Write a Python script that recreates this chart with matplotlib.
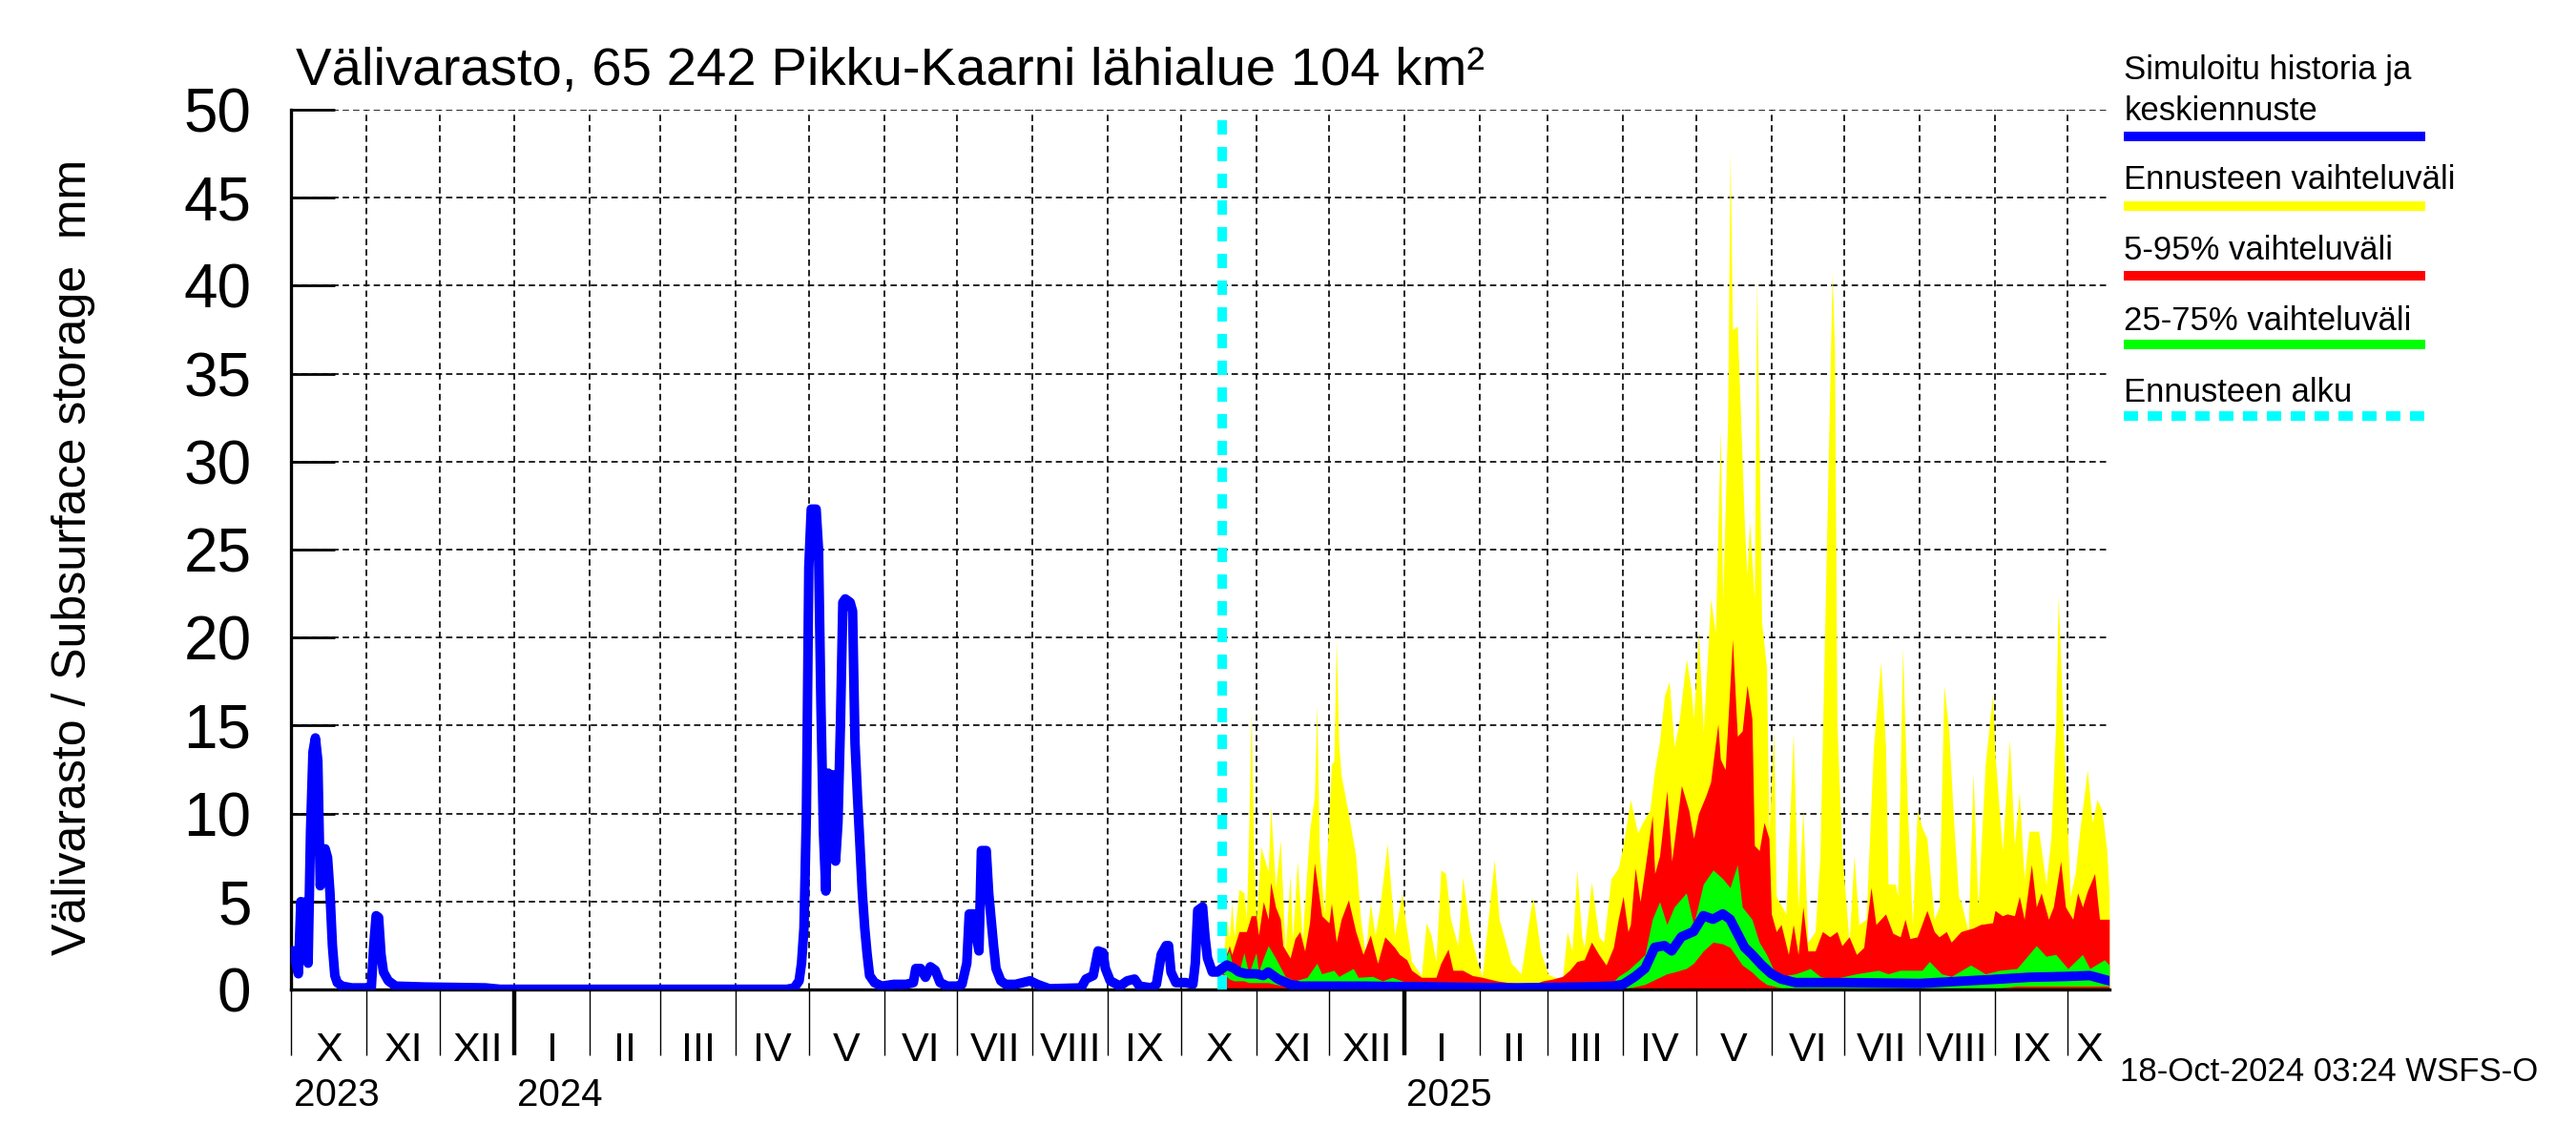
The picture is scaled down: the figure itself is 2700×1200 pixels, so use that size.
import numpy as np
import pandas as pd
import matplotlib
matplotlib.use("Agg")
import matplotlib.pyplot as plt
from matplotlib.lines import Line2D
from matplotlib import font_manager

# =========================
# Data
# =========================
hist_dates = [
    "2023-10-01", "2023-10-02", "2023-10-03", "2023-10-04", "2023-10-05", "2023-10-06",
    "2023-10-07", "2023-10-08", "2023-10-09", "2023-10-10", "2023-10-11", "2023-10-12",
    "2023-10-13", "2023-10-14", "2023-10-15", "2023-10-16", "2023-10-17", "2023-10-18",
    "2023-10-19", "2023-10-20", "2023-10-22", "2023-10-26", "2023-11-03", "2023-11-04",
    "2023-11-05", "2023-11-06", "2023-11-07", "2023-11-08", "2023-11-10", "2023-11-13",
    "2023-11-25", "2023-12-20", "2023-12-26", "2024-04-22", "2024-04-25", "2024-04-27",
    "2024-04-28", "2024-04-29", "2024-04-30", "2024-05-01", "2024-05-02", "2024-05-04",
    "2024-05-05", "2024-05-06", "2024-05-07", "2024-05-08", "2024-05-09", "2024-05-10",
    "2024-05-11", "2024-05-12", "2024-05-13", "2024-05-14", "2024-05-15", "2024-05-16",
    "2024-05-18", "2024-05-19", "2024-05-20", "2024-05-21", "2024-05-22", "2024-05-23",
    "2024-05-24", "2024-05-25", "2024-05-26", "2024-05-28", "2024-05-31", "2024-06-05",
    "2024-06-10", "2024-06-13", "2024-06-14", "2024-06-16", "2024-06-18", "2024-06-20",
    "2024-06-22", "2024-06-24", "2024-06-27", "2024-07-01", "2024-07-03", "2024-07-05",
    "2024-07-06", "2024-07-08", "2024-07-09", "2024-07-10", "2024-07-11", "2024-07-13",
    "2024-07-14", "2024-07-15", "2024-07-16", "2024-07-17", "2024-07-19", "2024-07-21",
    "2024-07-25", "2024-07-31", "2024-08-03", "2024-08-08", "2024-08-21", "2024-08-23",
    "2024-08-26", "2024-08-28", "2024-08-30", "2024-08-31", "2024-09-02", "2024-09-06",
    "2024-09-09", "2024-09-12", "2024-09-14", "2024-09-19", "2024-09-21", "2024-09-23",
    "2024-09-25", "2024-09-26", "2024-09-27", "2024-09-29", "2024-10-03", "2024-10-06",
    "2024-10-07", "2024-10-08", "2024-10-10", "2024-10-11", "2024-10-12", "2024-10-14",
    "2024-10-16", "2024-10-18",
]
hist_vals = [
    2.2, 2.2, 1.5, 0.9, 5.0, 3.0,
    5.0, 1.5, 9.0, 13.5, 14.3, 13.0,
    5.9, 7.0, 8.0, 7.5, 5.5, 2.5,
    0.8, 0.4, 0.2, 0.1, 0.1, 2.5,
    4.2, 4.1, 2.0, 1.0, 0.5, 0.2,
    0.15, 0.1, 0.02, 0.02, 0.1, 0.5,
    1.5, 3.5, 10.0, 24.0, 27.3, 27.3,
    25.0, 16.0, 9.0, 5.6, 12.3, 8.0,
    12.2, 7.3, 9.5, 15.0, 22.0, 22.2,
    22.0, 21.5, 14.0, 11.0, 8.3, 5.5,
    3.5, 2.0, 0.8, 0.4, 0.2, 0.3,
    0.3, 0.4, 1.2, 1.2, 0.7, 1.3,
    1.1, 0.4, 0.2, 0.2, 0.3, 1.5,
    4.3, 4.3, 3.0, 2.2, 7.9, 7.9,
    5.5, 4.0, 2.5, 1.2, 0.5, 0.3,
    0.3, 0.5, 0.3, 0.05, 0.1, 0.6,
    0.8, 2.2, 2.1, 1.2, 0.5, 0.2,
    0.5, 0.6, 0.2, 0.1, 0.3, 2.0,
    2.5, 2.5, 1.0, 0.4, 0.4, 0.3,
    1.5, 4.5, 4.7, 3.0, 1.8, 1.0,
    1.0, 1.2,
]

# Ennusteen vaihteluväli (max)
yel_dates = [
    "2024-10-18", "2024-10-20", "2024-10-21", "2024-10-22", "2024-10-23", "2024-10-25",
    "2024-10-27", "2024-10-28", "2024-10-29", "2024-10-30", "2024-10-31", "2024-11-01",
    "2024-11-03", "2024-11-06", "2024-11-07", "2024-11-09", "2024-11-11", "2024-11-13",
    "2024-11-15", "2024-11-16", "2024-11-18", "2024-11-20", "2024-11-23", "2024-11-25",
    "2024-11-26", "2024-11-27", "2024-11-29", "2024-12-02", "2024-12-03", "2024-12-04",
    "2024-12-05", "2024-12-06", "2024-12-09", "2024-12-12", "2024-12-14", "2024-12-16",
    "2024-12-18", "2024-12-20", "2024-12-22", "2024-12-25", "2024-12-28", "2024-12-31",
    "2025-01-02", "2025-01-04", "2025-01-08", "2025-01-10", "2025-01-12", "2025-01-14",
    "2025-01-16", "2025-01-18", "2025-01-20", "2025-01-23", "2025-01-25", "2025-01-28",
    "2025-01-31", "2025-02-02", "2025-02-07", "2025-02-09", "2025-02-14", "2025-02-18",
    "2025-02-22", "2025-02-23", "2025-02-26", "2025-03-01", "2025-03-03", "2025-03-07",
    "2025-03-09", "2025-03-11", "2025-03-13", "2025-03-15", "2025-03-16", "2025-03-19",
    "2025-03-22", "2025-03-24", "2025-03-27", "2025-03-30", "2025-04-01", "2025-04-04",
    "2025-04-07", "2025-04-09", "2025-04-12", "2025-04-14", "2025-04-16", "2025-04-18",
    "2025-04-20", "2025-04-22", "2025-04-24", "2025-04-27", "2025-04-29", "2025-04-30",
    "2025-05-02", "2025-05-04", "2025-05-07", "2025-05-09", "2025-05-11", "2025-05-12",
    "2025-05-14", "2025-05-15", "2025-05-16", "2025-05-18", "2025-05-20", "2025-05-21",
    "2025-05-22", "2025-05-23", "2025-05-25", "2025-05-26", "2025-05-28", "2025-05-30",
    "2025-05-31", "2025-06-02", "2025-06-03", "2025-06-07", "2025-06-10", "2025-06-12",
    "2025-06-14", "2025-06-16", "2025-06-19", "2025-06-21", "2025-06-24", "2025-06-26",
    "2025-06-27", "2025-06-28", "2025-06-30", "2025-07-03", "2025-07-05", "2025-07-07",
    "2025-07-10", "2025-07-13", "2025-07-16", "2025-07-18", "2025-07-19", "2025-07-22",
    "2025-07-23", "2025-07-25", "2025-07-27", "2025-07-29", "2025-07-31", "2025-08-02",
    "2025-08-04", "2025-08-07", "2025-08-09", "2025-08-11", "2025-08-13", "2025-08-15",
    "2025-08-17", "2025-08-18", "2025-08-21", "2025-08-23", "2025-08-25", "2025-08-28",
    "2025-08-31", "2025-09-01", "2025-09-04", "2025-09-07", "2025-09-09", "2025-09-11",
    "2025-09-13", "2025-09-15", "2025-09-19", "2025-09-22", "2025-09-24", "2025-09-26",
    "2025-09-27", "2025-09-29", "2025-10-02", "2025-10-04", "2025-10-06", "2025-10-09",
    "2025-10-11", "2025-10-13", "2025-10-15", "2025-10-17", "2025-10-18",
]
yel_vals = [
    1.2, 4.0, 2.9, 5.0, 3.0, 5.7,
    5.5, 4.0, 9.0, 15.9, 8.0, 4.0,
    8.1, 6.7, 10.4, 5.8, 8.5, 2.2,
    6.5, 2.9, 7.3, 2.9, 9.0, 11.0,
    16.2, 8.0, 4.3, 12.8, 13.0, 19.9,
    14.0, 12.2, 10.0, 7.6, 4.0, 2.0,
    4.9, 3.1, 4.8, 8.3, 3.1, 5.5,
    3.4, 1.6, 0.8, 3.8, 3.1, 1.6,
    6.8, 6.6, 4.0, 2.5, 6.4, 3.3,
    1.6, 0.75, 7.4, 4.0, 1.5, 0.9,
    4.6, 5.2, 2.2, 0.9, 0.75, 0.6,
    3.3, 2.2, 6.8, 3.0, 2.4, 6.1,
    3.0, 2.7, 6.3, 6.9, 8.2, 10.8,
    8.9, 9.5, 10.2, 12.5, 14.1, 16.7,
    17.5, 13.8, 15.2, 18.8, 17.0, 15.4,
    20.3, 14.7, 22.2, 20.3, 31.8, 22.2,
    32.3, 47.6, 37.5, 37.7, 30.0, 26.1,
    23.5, 26.6, 22.2, 40.4, 20.9, 18.3,
    8.9, 14.7, 5.3, 4.3, 14.6, 4.7,
    10.2, 2.7, 3.3, 7.6, 27.4, 40.7,
    36.3, 15.1, 7.9, 2.7, 7.6, 3.7,
    4.0, 13.8, 18.6, 13.8, 6.0, 6.0,
    5.3, 19.4, 10.2, 3.7, 10.2, 9.2,
    8.6, 4.0, 4.7, 17.3, 14.7, 9.5,
    5.3, 5.0, 3.3, 12.3, 4.7, 12.8,
    16.8, 13.4, 7.9, 14.2, 8.2, 11.2,
    6.3, 9.0, 9.0, 6.0, 8.6, 15.1,
    22.4, 15.1, 5.3, 6.6, 9.2, 12.5,
    9.5, 10.8, 10.2, 7.9, 5.3,
]

# 5-95% vaihteluväli (upper edge)
red_dates = [
    "2024-10-18", "2024-10-21", "2024-10-22", "2024-10-25", "2024-10-28", "2024-10-30",
    "2024-11-01", "2024-11-02", "2024-11-04", "2024-11-06", "2024-11-07", "2024-11-09",
    "2024-11-11", "2024-11-12", "2024-11-15", "2024-11-17", "2024-11-19", "2024-11-21",
    "2024-11-23", "2024-11-25", "2024-11-28", "2024-12-01", "2024-12-02", "2024-12-04",
    "2024-12-06", "2024-12-09", "2024-12-12", "2024-12-15", "2024-12-18", "2024-12-21",
    "2024-12-24", "2024-12-28", "2024-12-30", "2025-01-02", "2025-01-04", "2025-01-08",
    "2025-01-14", "2025-01-16", "2025-01-19", "2025-01-21", "2025-01-25", "2025-01-29",
    "2025-02-02", "2025-02-08", "2025-02-13", "2025-02-23", "2025-02-27", "2025-03-03",
    "2025-03-07", "2025-03-10", "2025-03-13", "2025-03-16", "2025-03-19", "2025-03-22",
    "2025-03-25", "2025-03-28", "2025-03-30", "2025-04-01", "2025-04-03", "2025-04-04",
    "2025-04-06", "2025-04-08", "2025-04-10", "2025-04-13", "2025-04-14", "2025-04-16",
    "2025-04-19", "2025-04-21", "2025-04-25", "2025-04-28", "2025-04-30", "2025-05-02",
    "2025-05-05", "2025-05-07", "2025-05-10", "2025-05-11", "2025-05-13", "2025-05-16",
    "2025-05-18", "2025-05-20", "2025-05-22", "2025-05-24", "2025-05-25", "2025-05-27",
    "2025-05-29", "2025-05-31", "2025-06-01", "2025-06-03", "2025-06-05", "2025-06-08",
    "2025-06-10", "2025-06-12", "2025-06-14", "2025-06-16", "2025-06-19", "2025-06-22",
    "2025-06-25", "2025-06-28", "2025-06-30", "2025-07-03", "2025-07-06", "2025-07-09",
    "2025-07-12", "2025-07-14", "2025-07-18", "2025-07-21", "2025-07-24", "2025-07-26",
    "2025-07-28", "2025-07-31", "2025-08-04", "2025-08-07", "2025-08-09", "2025-08-12",
    "2025-08-14", "2025-08-18", "2025-08-23", "2025-08-26", "2025-08-31", "2025-09-01",
    "2025-09-04", "2025-09-06", "2025-09-09", "2025-09-11", "2025-09-13", "2025-09-16",
    "2025-09-18", "2025-09-20", "2025-09-23", "2025-09-25", "2025-09-28", "2025-09-30",
    "2025-10-03", "2025-10-05", "2025-10-07", "2025-10-09", "2025-10-12", "2025-10-14",
    "2025-10-18",
]
red_vals = [
    1.3, 2.5, 2.0, 3.3, 3.3, 4.2,
    4.2, 3.1, 5.0, 4.0, 6.1, 4.7,
    4.0, 2.5, 1.8, 2.9, 3.3, 2.2,
    3.8, 7.2, 4.2, 3.8, 4.9, 2.7,
    4.0, 5.1, 3.3, 2.0, 3.1, 1.5,
    3.0, 2.4, 2.0, 1.7, 1.1, 0.7,
    0.7, 1.5, 2.3, 1.1, 1.1, 0.8,
    0.7, 0.5, 0.4, 0.3, 0.5, 0.6,
    0.75, 1.1, 1.6, 1.7, 2.7, 2.0,
    1.4, 2.4, 4.0, 5.3, 3.3, 3.7,
    6.9, 5.0, 6.9, 9.9, 6.6, 7.6,
    11.3, 7.3, 11.6, 10.2, 8.6, 10.0,
    11.0, 11.8, 15.1, 13.1, 12.5, 19.9,
    14.4, 14.7, 17.3, 15.4, 8.2, 7.9,
    9.5, 8.6, 4.3, 3.3, 3.7, 2.0,
    3.7, 2.0, 4.7, 2.2, 2.2, 3.3,
    3.0, 3.3, 2.5, 3.0, 2.0, 2.4,
    5.8, 3.7, 4.3, 3.2, 3.0, 4.0,
    2.9, 3.0, 4.5, 3.3, 3.0, 3.3,
    2.7, 3.3, 3.5, 3.7, 3.8, 4.5,
    4.2, 4.3, 4.2, 5.3, 4.0, 7.1,
    4.7, 5.5, 4.0, 4.7, 7.3, 4.7,
    4.0, 5.5, 4.7, 5.6, 6.6, 4.0,
    4.0,
]

# 25-75% vaihteluväli (upper and lower edge)
grn_dates = [
    "2024-10-18", "2024-10-21", "2024-10-23", "2024-10-25", "2024-10-27", "2024-10-29",
    "2024-11-01", "2024-11-02", "2024-11-04", "2024-11-06", "2024-11-09", "2024-11-13",
    "2024-11-17", "2024-11-22", "2024-11-26", "2024-11-28", "2024-12-03", "2024-12-05",
    "2024-12-11", "2024-12-13", "2024-12-19", "2024-12-23", "2024-12-27", "2025-01-02",
    "2025-01-08", "2025-02-01", "2025-03-01", "2025-03-13", "2025-03-28", "2025-03-30",
    "2025-04-03", "2025-04-07", "2025-04-10", "2025-04-13", "2025-04-16", "2025-04-19",
    "2025-04-22", "2025-04-27", "2025-04-30", "2025-05-04", "2025-05-08", "2025-05-12",
    "2025-05-15", "2025-05-18", "2025-05-20", "2025-05-24", "2025-05-27", "2025-05-30",
    "2025-06-02", "2025-06-05", "2025-06-11", "2025-06-17", "2025-06-21", "2025-06-26",
    "2025-07-06", "2025-07-15", "2025-07-19", "2025-07-24", "2025-08-02", "2025-08-05",
    "2025-08-10", "2025-08-14", "2025-08-22", "2025-08-28", "2025-09-03", "2025-09-10",
    "2025-09-18", "2025-09-22", "2025-09-26", "2025-10-01", "2025-10-07", "2025-10-10",
    "2025-10-16", "2025-10-18",
]
grn_hi = [
    1.5, 2.2, 0.9, 1.0, 2.1, 0.9,
    2.1, 1.0, 1.8, 2.5, 1.8, 0.75,
    0.5, 0.7, 1.5, 0.9, 1.1, 0.75,
    1.2, 0.7, 0.75, 0.5, 0.7, 0.4,
    0.3, 0.25, 0.3, 0.35, 0.45, 0.75,
    1.1, 1.6, 2.0, 4.0, 5.0, 3.7,
    4.7, 5.5, 3.7, 6.0, 6.8, 6.3,
    5.8, 7.1, 4.7, 4.0, 2.7, 2.0,
    1.1, 0.75, 0.9, 1.2, 0.75, 0.6,
    0.9, 1.1, 0.9, 1.1, 1.1, 1.6,
    0.9, 0.75, 1.4, 0.9, 1.1, 1.2,
    2.5, 1.9, 2.0, 1.2, 2.0, 1.2,
    1.7, 1.4,
]
grn_lo = [
    1.0, 0.6, 0.5, 0.5, 0.5, 0.4,
    0.4, 0.4, 0.4, 0.4, 0.3, 0.2,
    0.1, 0.1, 0.1, 0.1, 0.1, 0.05,
    0.05, 0.05, 0.05, 0.05, 0.05, 0.05,
    0.05, 0.05, 0.05, 0.05, 0.05, 0.1,
    0.1, 0.2, 0.3, 0.5, 0.7, 0.9,
    1.0, 1.2, 1.5, 2.2, 2.7, 2.6,
    2.4, 1.8, 1.4, 1.0, 0.6, 0.3,
    0.2, 0.1, 0.1, 0.1, 0.1, 0.1,
    0.1, 0.1, 0.1, 0.1, 0.1, 0.1,
    0.1, 0.1, 0.1, 0.1, 0.1, 0.2,
    0.2, 0.2, 0.2, 0.2, 0.2, 0.2,
    0.2, 0.2,
]

# Keskiennuste (median forecast)
med_dates = [
    "2024-10-18", "2024-10-20", "2024-10-23", "2024-10-25", "2024-10-28", "2024-11-01",
    "2024-11-04", "2024-11-06", "2024-11-10", "2024-11-15", "2024-11-19", "2024-12-15",
    "2025-01-15", "2025-02-15", "2025-03-15", "2025-03-28", "2025-04-01", "2025-04-06",
    "2025-04-10", "2025-04-14", "2025-04-18", "2025-04-21", "2025-04-25", "2025-04-30",
    "2025-05-04", "2025-05-08", "2025-05-12", "2025-05-15", "2025-05-18", "2025-05-21",
    "2025-05-24", "2025-05-28", "2025-06-01", "2025-06-05", "2025-06-11", "2025-07-01",
    "2025-08-01", "2025-09-03", "2025-09-15", "2025-10-01", "2025-10-10", "2025-10-18",
]
med_vals = [
    1.2, 1.4, 1.2, 1.0, 0.9, 0.9,
    0.8, 1.0, 0.6, 0.3, 0.2, 0.2,
    0.15, 0.1, 0.15, 0.2, 0.3, 0.75,
    1.2, 2.4, 2.5, 2.2, 3.0, 3.3,
    4.2, 4.0, 4.3, 4.0, 3.2, 2.4,
    2.0, 1.4, 0.9, 0.6, 0.4, 0.4,
    0.35, 0.6, 0.7, 0.75, 0.8, 0.5,
]

forecast_start = "2024-10-18"
x_start, x_end = "2023-10-01", "2025-10-18"
month_names = ["I", "II", "III", "IV", "V", "VI", "VII", "VIII", "IX", "X", "XI", "XII"]

# =========================
# Fonts / colours
# =========================
names = {f.name for f in font_manager.fontManager.ttflist}
narrow = "Liberation Sans Narrow" if "Liberation Sans Narrow" in names else "Liberation Sans"
regular = "Liberation Sans"

c_blue = "#0000ff"
c_yellow = "#ffff00"
c_red = "#ff0000"
c_green = "#00ff00"
c_cyan = "#00ffff"

# =========================
# Plot
# =========================
fig = plt.figure(figsize=(13.5, 6), dpi=200)
ax = fig.add_axes([0.1130, 0.1357, 0.7058, 0.7686])

yd = pd.to_datetime(yel_dates)
rd = pd.to_datetime(red_dates)
gd = pd.to_datetime(grn_dates)

ax.fill_between(yd, 0, yel_vals, color=c_yellow, lw=0, zorder=2)
ax.fill_between(rd, 0, red_vals, color=c_red, lw=0, zorder=2.1)
ax.fill_between(gd, grn_lo, grn_hi, color=c_green, lw=0, zorder=2.2)

fs = pd.Timestamp(forecast_start)
ax.plot([fs, fs], [0, 50], color=c_cyan, lw=3.6, linestyle=(0, (1.5, 1.3)),
        solid_capstyle="butt", dash_capstyle="butt", zorder=3)

ax.plot(pd.to_datetime(hist_dates), hist_vals, color=c_blue, lw=3.6, zorder=4)
ax.plot(pd.to_datetime(med_dates), med_vals, color=c_blue, lw=3.6, zorder=4)

# =========================
# Axes
# =========================
ax.set_xlim(pd.Timestamp(x_start), pd.Timestamp(x_end))
ax.set_ylim(0, 50)

ax.spines["top"].set_visible(False)
ax.spines["right"].set_visible(False)
ax.spines["left"].set_linewidth(1.2)
ax.spines["bottom"].set_linewidth(1.2)

ax.set_yticks(np.arange(0, 51, 5))
ax.tick_params(axis="y", direction="in", length=16.5, width=1.0, pad=15,
               labelsize=23)
for lab in ax.get_yticklabels():
    lab.set_family(regular)

month_starts = pd.date_range("2023-10-01", "2025-10-01", freq="MS")
ax.set_xticks(month_starts)
ax.set_xticklabels([])
ax.tick_params(axis="x", direction="out", length=25, width=0.5)
for t, d in zip(ax.xaxis.get_major_ticks(), month_starts):
    if d.month == 1:
        t.tick1line.set_markeredgewidth(1.6)

ax.grid(True, color="black", linestyle=(0, (4, 2.5)), linewidth=0.6)
for gl in ax.get_xgridlines() + ax.get_ygridlines():
    gl.set_zorder(1.5)

# month labels in the middle of each visible month
xmin, xmax = pd.Timestamp(x_start), pd.Timestamp(x_end)
for d in month_starts:
    d_end = d + pd.offsets.MonthBegin(1)
    a, b = max(d, xmin), min(d_end, xmax)
    mid = a + (b - a) / 2
    ax.text(mid, -0.069, month_names[d.month - 1], transform=ax.get_xaxis_transform(),
            ha="center", va="center", fontsize=15.5, family=narrow)

for d, yr in [(xmin, "2023"), (pd.Timestamp("2024-01-01"), "2024"),
              (pd.Timestamp("2025-01-01"), "2025")]:
    ax.text(d + pd.Timedelta(days=1), -0.12, yr, transform=ax.get_xaxis_transform(),
            ha="left", va="center", fontsize=14.5, family=narrow)

# =========================
# Texts
# =========================
fig.text(0.1149, 0.926, "Välivarasto, 65 242 Pikku-Kaarni lähialue 104 km²",
         fontsize=20.3, family=narrow, ha="left", va="baseline")
fig.text(0.0287, 0.513, "Välivarasto / Subsurface storage  mm", rotation=90,
         fontsize=18, family=regular, ha="center", va="center")
fig.text(0.823, 0.064, "18-Oct-2024 03:24 WSFS-O", fontsize=12.5, family=narrow,
         ha="left", va="center")

# =========================
# Legend
# =========================
lx0, lx1 = 0.8245, 0.9413
legend_items = [
    (["Simuloitu historia ja", "keskiennuste"], [0.939, 0.903], 0.881, c_blue, "-"),
    (["Ennusteen vaihteluväli"], [0.843], 0.820, c_yellow, "-"),
    (["5-95% vaihteluväli"], [0.781], 0.759, c_red, "-"),
    (["25-75% vaihteluväli"], [0.720], 0.699, c_green, "-"),
    (["Ennusteen alku"], [0.657], 0.637, c_cyan, (0, (1.5, 1.0))),
]
for texts, tys, ly, col, ls in legend_items:
    for txt, ty in zip(texts, tys):
        fig.text(lx0, ty, txt, fontsize=12.5, family=regular, ha="left", va="center")
    fig.add_artist(Line2D([lx0, lx1], [ly, ly], transform=fig.transFigure,
                          color=col, lw=3.6, linestyle=ls, solid_capstyle="butt",
                          dash_capstyle="butt"))

fig.savefig("out.png", dpi=200)
